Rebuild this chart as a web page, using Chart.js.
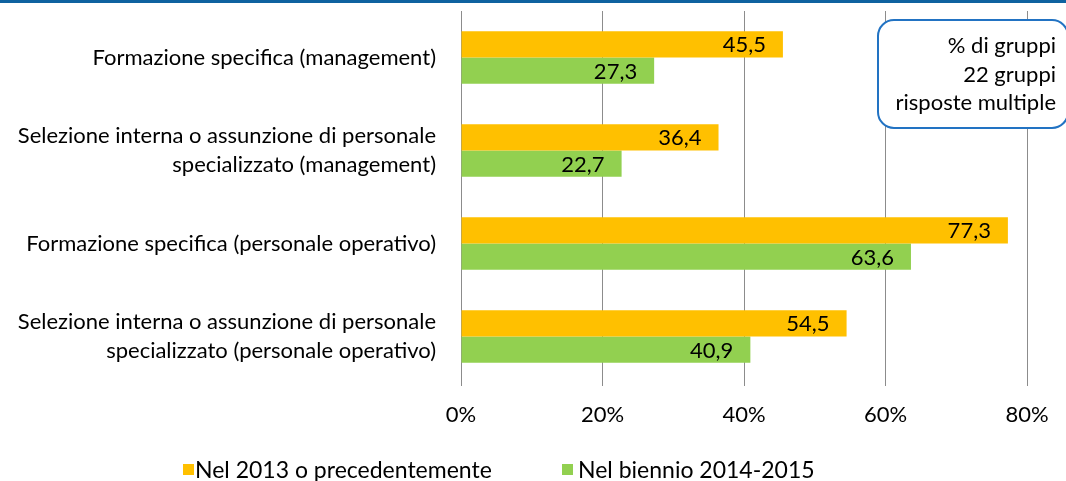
<!DOCTYPE html>
<html>
<head>
<meta charset="utf-8">
<script src="https://cdn.jsdelivr.net/npm/chart.js@4"></script>
<style>
  html, body { margin: 0; padding: 0; background: #fff; }
  #wrap { width: 1066px; height: 481px; position: relative; }
</style>
</head>
<body>
<div id="wrap"><canvas id="chart"></canvas></div>
<script>

const categories = [
  ['Formazione specifica (management)'],
  ['Selezione interna o assunzione di personale', 'specializzato (management)'],
  ['Formazione specifica (personale operativo)'],
  ['Selezione interna o assunzione di personale', 'specializzato (personale operativo)']
];
const before2013 = [45.5, 36.4, 77.3, 54.5];
const biennio = [27.3, 22.7, 63.6, 40.9];
const xTicks = [0, 20, 40, 60, 80];
const noteLines = ['% di gruppi', '22 gruppi', 'risposte multiple'];

const FONT = 'Lato, "Open Sans", sans-serif';

function fmt(v) {
  return v.toFixed(1).replace('.', ',');
}

// top rule, value labels, note box and legend
const extras = {
  id: 'extras',
  afterDatasetsDraw(chart) {
    const ctx = chart.ctx;
    ctx.save();

    ctx.fillStyle = '#0f62a0';
    ctx.fillRect(0, 0, chart.width, 3);

    ctx.font = '22px ' + FONT;
    ctx.fillStyle = '#000';
    ctx.textAlign = 'right';
    ctx.textBaseline = 'middle';
    chart.data.datasets.forEach((ds, i) => {
      chart.getDatasetMeta(i).data.forEach((bar, j) => {
        ctx.fillText(fmt(ds.data[j]), bar.x - 17, bar.y + 1);
      });
    });

    // note box
    const bx = 878, by = 20, bw = 190, bh = 108, r = 16;
    ctx.beginPath();
    ctx.roundRect(bx, by, bw, bh, r);
    ctx.fillStyle = '#fff';
    ctx.fill();
    ctx.lineWidth = 2;
    ctx.strokeStyle = '#2273c3';
    ctx.stroke();
    ctx.fillStyle = '#000';
    noteLines.forEach((t, i) => {
      ctx.fillText(t, 1056, 46 + i * 28.5);
    });

    // legend
    const items = [{x: 183, tx: 195}, {x: 562, tx: 578}];
    ctx.font = '23px ' + FONT;
    ctx.textAlign = 'left';
    chart.data.datasets.forEach((ds, i) => {
      ctx.fillStyle = ds.backgroundColor;
      ctx.fillRect(items[i].x, 464, 11, 11);
      ctx.fillStyle = '#000';
      ctx.fillText(ds.label, items[i].tx, 471);
    });

    ctx.restore();
  }
};

new Chart(document.getElementById('chart'), {
  type: 'bar',
  data: {
    labels: categories,
    datasets: [
      {
        label: 'Nel 2013 o precedentemente',
        data: before2013,
        backgroundColor: '#ffc000',
        barPercentage: 1,
        categoryPercentage: 0.565
      },
      {
        label: 'Nel biennio 2014-2015',
        data: biennio,
        backgroundColor: '#92d050',
        barPercentage: 1,
        categoryPercentage: 0.565
      }
    ]
  },
  options: {
    indexAxis: 'y',
    responsive: true,
    maintainAspectRatio: false,
    animation: false,
    layout: { padding: { top: 11, right: 39, left: 0, bottom: 0 } },
    plugins: {
      legend: { display: false },
      tooltip: { enabled: false }
    },
    scales: {
      x: {
        min: 0,
        max: 80,
        afterBuildTicks: (scale) => { scale.ticks = xTicks.map(v => ({ value: v })); },
        afterFit: (scale) => {
          scale.height = 98;
          scale.paddingLeft = 0;
          scale.paddingRight = 0;
        },
        grid: { color: '#8c8c8c', lineWidth: 1, drawTicks: true, tickLength: 3 },
        border: { display: false },
        ticks: {
          color: '#000',
          padding: 16,
          maxRotation: 0,
          font: { family: FONT, size: 22 },
          callback: (v) => v + '%'
        }
      },
      y: {
        afterFit: (scale) => {
          scale.width = 461;
          scale.paddingTop = 0;
          scale.paddingBottom = 0;
        },
        grid: { display: false },
        border: { display: false },
        ticks: {
          color: '#000',
          padding: 17,
          font: { family: FONT, size: 22, lineHeight: 1.32 }
        }
      }
    }
  },
  plugins: [extras]
});
</script>
</body>
</html>
